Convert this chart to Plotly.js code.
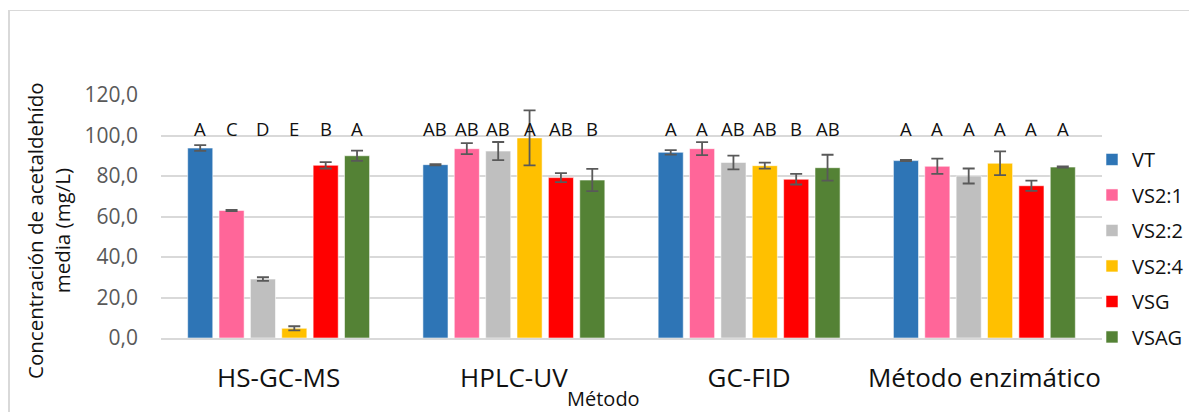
<!DOCTYPE html>
<html>
<head>
<meta charset="utf-8">
<script src="https://cdn.plot.ly/plotly-3.0.1.min.js"></script>
<style>
html,body{margin:0;padding:0;background:#fff;overflow:hidden;}
#frame{position:absolute;left:8px;top:10px;width:1400px;height:600px;border-top:1.5px solid #d9d9d9;border-left:2px solid #d9d9d9;}
#chart{position:absolute;left:0;top:0;width:1189px;height:412px;}
</style>
</head>
<body>
<div id="frame"></div>
<div id="chart"></div>
<script>
// ---- data ----
const categories = ["HS-GC-MS", "HPLC-UV", "GC-FID", "Método enzimático"];
const seriesNames = ["VT", "VS2:1", "VS2:2", "VS2:4", "VSG", "VSAG"];
const VT    = [93.8, 85.6, 91.7, 87.6];
const VS2_1 = [63.0, 93.5, 93.5, 84.8];
const VS2_2 = [29.1, 92.3, 86.7, 80.0];
const VS2_4 = [4.8, 98.8, 85.1, 86.3];
const VSG   = [85.3, 79.2, 78.4, 75.2];
const VSAG  = [90.0, 78.0, 84.1, 84.4];
const errVT    = [1.4, 0.3, 1.1, 0.3];
const errVS2_1 = [0.3, 2.7, 3.2, 3.8];
const errVS2_2 = [0.9, 4.5, 3.4, 3.7];
const errVS2_4 = [1.0, 13.6, 1.5, 5.9];
const errVSG   = [1.6, 2.2, 2.6, 2.5];
const errVSAG  = [2.5, 5.5, 6.4, 0.3];
// significance letters [series][category]
const lettersVT    = ["A", "AB", "A", "A"];
const lettersVS2_1 = ["C", "AB", "A", "A"];
const lettersVS2_2 = ["D", "AB", "AB", "A"];
const lettersVS2_4 = ["E", "A", "AB", "A"];
const lettersVSG   = ["B", "AB", "B", "A"];
const lettersVSAG  = ["A", "B", "AB", "A"];
const letterLevel = 103.6;
const yTicks = [0, 20, 40, 60, 80, 100, 120];

// ---- styling ----
const values = [VT, VS2_1, VS2_2, VS2_4, VSG, VSAG];
const errors = [errVT, errVS2_1, errVS2_2, errVS2_4, errVSG, errVSAG];
const letters = [lettersVT, lettersVS2_1, lettersVS2_2, lettersVS2_4, lettersVSG, lettersVSAG];
const colors = ["#2E75B6", "#FF6699", "#BFBFBF", "#FFC000", "#FF0000", "#548235"];
const FONT = "'Open Sans', Lato, sans-serif";

const traces = seriesNames.map((name, i) => ({
  type: "bar",
  name: name,
  x: categories,
  y: values[i],
  legendgroup: "g" + i,
  marker: {color: colors[i], line: {color: "rgba(255,255,255,0.55)", width: 1}},
  error_y: {type: "data", array: errors[i], visible: true, color: "#595959", thickness: 1.8, width: 6},
  hoverinfo: "x+y+name"
}));

const ML = 161, MR = 87, MT = 95, MB = 74;
const plotW = 1189 - ML - MR;
const plotH = 412 - MT - MB;
const catW = plotW / categories.length;
const groupW = catW * 0.8;
const pitch = groupW / seriesNames.length;

const annotations = [];
seriesNames.forEach((s, i) => {
  categories.forEach((c, j) => {
    annotations.push({
      x: c, y: letterLevel, xref: "x", yref: "y",
      text: letters[i][j], showarrow: false,
      xshift: (i - (seriesNames.length - 1) / 2) * pitch,
      yanchor: "middle",
      font: {family: FONT, size: 18.5, color: "#111"}
    });
  });
});
annotations.push({
  xref: "paper", yref: "paper", x: (603 - ML) / plotW, y: (338 - 398) / plotH,
  text: "Método", showarrow: false, xanchor: "center", yanchor: "middle",
  font: {family: FONT, size: 20, color: "#111"}
});
annotations.push({
  xref: "paper", yref: "paper", x: (48 - ML) / plotW, y: (338 - 231) / plotH,
  text: "Concentración de acetaldehído<br>media (mg/L)", showarrow: false,
  textangle: -90, xanchor: "center", yanchor: "middle",
  font: {family: FONT, size: 20.5, color: "#111"}
});

const layout = {
  width: 1189, height: 412,
  margin: {l: ML, r: MR, t: MT, b: MB, pad: 0, autoexpand: false},
  paper_bgcolor: "rgba(0,0,0,0)",
  plot_bgcolor: "rgba(0,0,0,0)",
  separators: ",.",
  barmode: "group",
  bargap: 0.2,
  bargroupgap: 0.2,
  showlegend: true,
  legend: {
    x: (1092 - ML) / plotW, xanchor: "left", y: 0.815, yanchor: "top",
    font: {family: FONT, size: 20, color: "#111"},
    tracegroupgap: 6.5, bgcolor: "rgba(0,0,0,0)"
  },
  xaxis: {
    type: "category",
    showgrid: false, showline: true, linecolor: "#d9d9d9", linewidth: 1.5,
    ticks: "", ticklabelstandoff: 16,
    tickfont: {family: FONT, size: 26, color: "#111"}
  },
  yaxis: {
    range: [0, 120], tickvals: yTicks, tickformat: ".1f",
    showgrid: true, gridcolor: "#d9d9d9", gridwidth: 1.5,
    zeroline: false, showline: false, ticks: "", ticklabelstandoff: 22,
    tickfont: {family: FONT, size: 21, color: "#595959"}
  },
  annotations: annotations
};

Plotly.newPlot("chart", traces, layout, {displayModeBar: false, responsive: false});
</script>
</body>
</html>
